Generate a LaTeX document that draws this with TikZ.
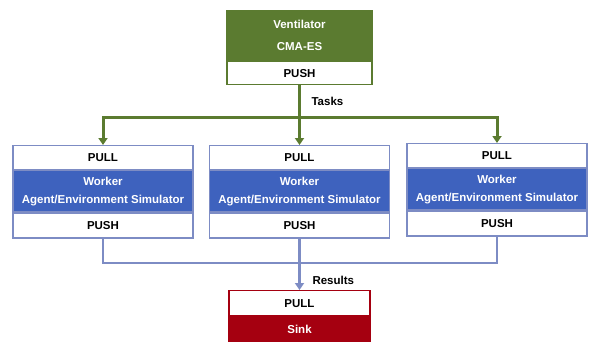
\documentclass[tikz,border=0pt]{standalone}
\usepackage{fontspec}
\setmainfont{Liberation Sans}
\usetikzlibrary{arrows.meta}
\definecolor{vgreen}{HTML}{5B7B30}
\definecolor{wblue}{HTML}{3E62BE}
\definecolor{wline}{HTML}{7D8CC4}
\definecolor{sred}{HTML}{A50010}
\begin{document}
\begin{tikzpicture}[x=1pt,y=-1pt,
  txt/.style={font=\bfseries\fontsize{11.5}{13}\selectfont},
  part/.style={txt,rectangle,inner sep=0pt,minimum width=180pt,anchor=north},
  wpart/.style={part,draw=wline,line width=1.2pt,fill=white,text=black},
  wmid/.style={part,draw=wline,line width=1.2pt,fill=wblue,text=white,align=center,minimum height=41pt},
  gline/.style={draw=vgreen,line width=3pt},
  garrow/.style={gline,-{Triangle[length=7pt,width=9pt]}},
  bline/.style={draw=wline,line width=2.2pt},
  barrow/.style={bline,-{Triangle[length=7pt,width=9pt]}},
  lbl/.style={txt,text=black,anchor=west}]
\useasboundingbox (0,0) rectangle (589,341);
% top box
\node[part,minimum width=145pt,minimum height=50pt,fill=vgreen,draw=vgreen,line width=1.2pt,text=white,align=center] (vent) at (299.5,10) {Ventilator\\[9pt]CMA-ES};
\node[part,minimum width=145pt,minimum height=23pt,fill=white,draw=vgreen,line width=1.2pt] (vpush) at (vent.south) {PUSH};
% workers
\foreach \n/\x/\y in {l/103/145,m/299.5/145,r/497/143}{
  \node[wpart,minimum height=24pt] (\n pull) at (\x,\y) {PULL};
  \node[wmid] (\n work) at (\n pull.south) {Worker\\[5pt]Agent/Environment Simulator};
  \node[wpart,minimum height=25pt] (\n push) at (\n work.south) {PUSH};
}
% sink
\node[part,minimum width=141pt,minimum height=25pt,fill=white,draw=sred,line width=1.2pt] (spull) at (299.5,290) {PULL};
\node[part,minimum width=141pt,minimum height=25pt,fill=sred,draw=sred,line width=1.2pt,text=white] (sink) at (spull.south) {Sink};
% task connectors
\coordinate (tj) at (vpush.south |- 0,117);
\coordinate (tl) at (lpull.north |- tj);
\coordinate (tr) at (rpull.north |- tj);
\draw[gline] (vpush.south) -- (tj);
\draw[gline,line cap=rect] (tl) -- (tr);
\draw[garrow] (tl) -- (lpull.north);
\draw[garrow] (tj) -- (mpull.north);
\draw[garrow] (tr) -- (rpull.north);
\node[lbl] (tasks) at (308,101) {Tasks};
% result connectors
\coordinate (rl) at (lpush.south |- 0,263);
\coordinate (rr) at (rpush.south |- rl);
\draw[bline] (lpush.south) -- (rl) -- (rr) -- (rpush.south);
\draw[barrow] (mpush.south) -- (spull.north);
\node[lbl] (results) at (309,280) {Results};
\end{tikzpicture}
\end{document}
